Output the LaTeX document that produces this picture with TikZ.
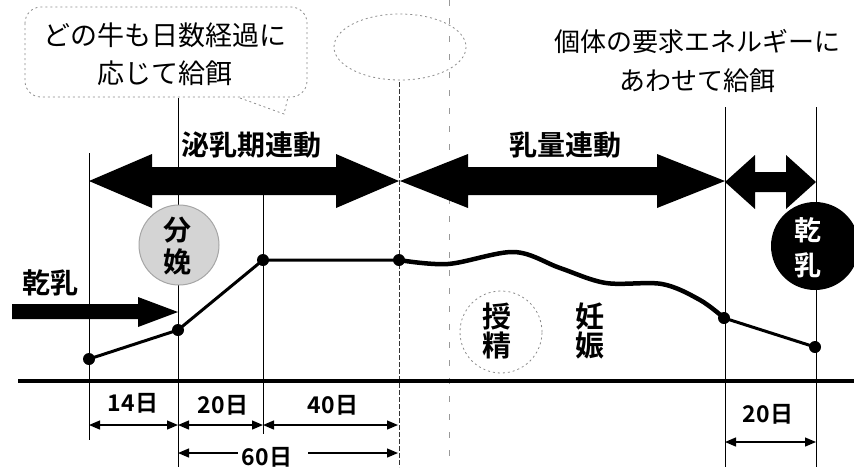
\documentclass[tikz,border=0pt]{standalone}
\usepackage{fontspec}
\setmainfont{Noto Sans CJK JP}[BoldFont={Noto Sans CJK JP Bold}]
\usetikzlibrary{arrows.meta}
\newcommand{\dblarrow}[6]{%
 \fill (#1,#3) -- ({#1+#6},{#3-#5}) -- ({#1+#6},{#3-#4}) -- ({#2-#6},{#3-#4}) -- ({#2-#6},{#3-#5}) -- (#2,#3) -- ({#2-#6},{#3+#5}) -- ({#2-#6},{#3+#4}) -- ({#1+#6},{#3+#4}) -- ({#1+#6},{#3+#5}) -- cycle;}
\tikzset{
  vline/.style={line width=1pt},
  dimarr/.style={line width=1.3pt,{Triangle[length=11pt,width=9pt]}-{Triangle[length=11pt,width=9pt]}},
  dimr/.style={line width=1.3pt,-{Triangle[length=11pt,width=9pt]}},
  diml/.style={line width=1.3pt,{Triangle[length=11pt,width=9pt]}-},
  dot/.style={circle,fill=black,inner sep=0pt,minimum size=12pt},
  lbl/.style={inner sep=0pt,font=\bfseries\fontsize{28}{30}\selectfont},
  dimlbl/.style={inner sep=0pt,font=\bfseries\fontsize{23}{25}\selectfont},
  faint/.style={draw=black!45,line width=0.8pt,dash pattern=on 2pt off 3pt},
}
\begin{document}
\begin{tikzpicture}[x=1pt,y=-1pt]
\useasboundingbox (0,0) rectangle (854,467);
\fill[white] (0,0) rectangle (854,467);

% faint callout bubble and cloud
\draw[faint,rounded corners=16pt] (25,7) rectangle (307,97);
\draw[faint] (240,98) -- (284,114) -- (288,97);
\draw[faint] (400,47) ellipse (66 and 33);

% vertical lines
\coordinate (a1) at (89,153);  \coordinate (a2) at (89,440);
\coordinate (b1) at (178,98);  \coordinate (b2) at (178,467);
\coordinate (c1) at (263,195); \coordinate (c2) at (263,434);
\coordinate (d1) at (399,82);  \coordinate (d2) at (399,467);
\coordinate (e1) at (449,0);   \coordinate (e2) at (449,467);
\coordinate (f1) at (725,107); \coordinate (f2) at (725,467);
\coordinate (g1) at (816,107); \coordinate (g2) at (816,467);
\draw[vline] (a1) -- (a2);
\draw[vline] (b1) -- (b2);
\draw[vline] (c1) -- (c2);
\draw[vline,black!80,dash pattern=on 5pt off 2pt] (d1) -- (d2);
\draw[line width=0.7pt,black!40,dash pattern=on 6pt off 12pt] (e1) -- (e2);
\draw[vline] (f1) -- (f2);
\draw[vline] (g1) -- (g2);

% big double arrows
\dblarrow{89}{399}{181}{14}{27}{63}
\dblarrow{400}{725}{181}{14}{27}{68}
\dblarrow{725}{816}{182}{10}{27}{30}
\node[lbl] (t1) at (251,145) {泌乳期連動};
\node[lbl] (t2) at (565,145) {乳量連動};

% baseline
\coordinate (h1) at (18,381); \coordinate (h2) at (854,381);
\draw[line width=3.5pt] (h1) -- (h2);

% left dry arrow
\node[lbl] (dry) at (51,283) {乾乳};
\fill (12,304) -- (138,304) -- (138,297) -- (178,312) -- (138,327) -- (138,319) -- (12,319) -- cycle;

% circles
\node[circle,fill=black!17,draw=black!35,line width=1pt,minimum size=80pt,inner sep=0pt] (bc) at (179,245) {};
\node[inner sep=0pt,align=center,font=\bfseries\fontsize{28}{32}\selectfont] (bt) at (177,246) {分\\娩};
\node[circle,fill=black,minimum size=88pt,inner sep=0pt] (kc) at (815,246) {};
\node[inner sep=0pt,align=center,text=white,font=\bfseries\fontsize{27}{35}\selectfont] (kt) at (808,248) {乾\\乳};
\node[circle,faint,minimum size=82pt,inner sep=0pt] (jc) at (501,332) {};
\node[inner sep=0pt,align=center,font=\bfseries\fontsize{29}{29}\selectfont] (jt) at (497,331) {授\\精};
\node[inner sep=0pt,align=center,font=\bfseries\fontsize{29}{29}\selectfont] (nt) at (590,331) {妊\\娠};

% curve
\coordinate (p1) at (89,359);
\coordinate (p2) at (178,330);
\coordinate (p3) at (263,260);
\coordinate (p4) at (399,260);
\coordinate (p5) at (724,318);
\coordinate (p6) at (815,347);
\draw[line width=3pt,line join=round] (p1) -- (p2) -- (p3) -- (p4);
\draw[line width=4.5pt,line cap=round] plot[smooth,tension=0.55] coordinates {(399,260) (448,264) (514,252) (560,268) (606,283) (662,284) (700,300) (724,318)};
\draw[line width=3pt] (p5) -- (p6);
\foreach \p in {p1,p2,p3,p4,p5,p6} \node[dot] at (\p) {};

% text blocks
\node[inner sep=0pt,align=center,font=\fontsize{27}{38}\selectfont] (bub) at (165,54) {どの牛も日数経過に\\応じて給餌};
\node[inner sep=0pt,align=center,font=\fontsize{26}{39}\selectfont] (tr) at (697,61) {個体の要求エネルギーに\\あわせて給餌};

% dimensions
\node[dimlbl] (d14) at (133,403) {14日};
\node[dimlbl] (d20) at (223,405) {20日};
\node[dimlbl] (d40) at (333,405) {40日};
\node[dimlbl] (d60) at (267,457) {60日};
\node[dimlbl] (d20b) at (768,414) {20日};
\coordinate (m1) at (89,425); \coordinate (m2) at (178,425);
\coordinate (m3) at (263,425); \coordinate (m4) at (398,425);
\draw[dimarr] (m1) -- (m2);
\draw[dimarr] (m2) -- (m3);
\draw[dimarr] (m3) -- (m4);
\coordinate (n1) at (178,453); \coordinate (n2) at (238,453);
\coordinate (n3) at (308,453); \coordinate (n4) at (398,453);
\draw[diml] (n1) -- (n2);
\draw[dimr] (n3) -- (n4);
\coordinate (q1) at (725,442); \coordinate (q2) at (816,442);
\draw[dimarr] (q1) -- (q2);
\end{tikzpicture}
\end{document}
